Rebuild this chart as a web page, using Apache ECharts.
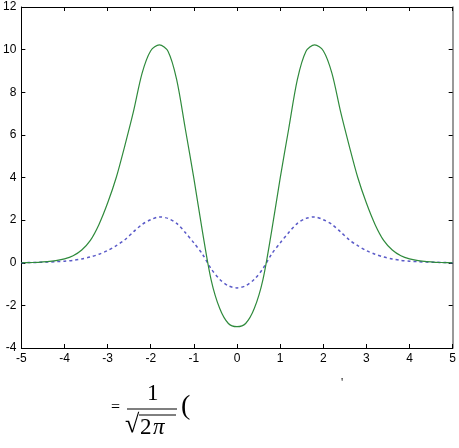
<!DOCTYPE html>
<html>
<head>
<meta charset="utf-8">
<script src="https://cdn.jsdelivr.net/npm/echarts@6/dist/echarts.min.js"></script>
<style>
  html, body { margin: 0; padding: 0; background: #fff; }
  #chart { width: 459px; height: 448px; }
</style>
</head>
<body>
<div id="chart"></div>
<script>
// x positions of the read points (step 0.2)
const xs = [-5, -4.8, -4.6, -4.4, -4.2, -4, -3.8, -3.6, -3.4, -3.2, -3, -2.8, -2.6, -2.4, -2.2, -2, -1.8, -1.6, -1.4, -1.2,
  -1, -0.8, -0.6, -0.4, -0.2, 0, 0.2, 0.4, 0.6, 0.8, 1, 1.2, 1.4, 1.6, 1.8, 2, 2.2, 2.4, 2.6, 2.8,
  3, 3.2, 3.4, 3.6, 3.8, 4, 4.2, 4.4, 4.6, 4.8, 5];
// green solid curve
const greenVals = [0, 0.01, 0.02, 0.05, 0.1, 0.18, 0.33, 0.6, 1.05, 1.8, 2.8, 4.0, 5.5, 7.1, 8.9, 9.95, 10.22, 9.92, 8.6, 6.3,
  3.96, 1.45, -0.8, -2.15, -2.85, -3.0, -2.85, -2.15, -0.8, 1.45, 3.96, 6.3, 8.6, 9.92, 10.22, 9.95, 8.9, 7.1, 5.5, 4.0,
  2.8, 1.8, 1.05, 0.6, 0.33, 0.18, 0.1, 0.05, 0.02, 0.01, 0];
// blue dashed curve
const blueVals = [0, 0.01, 0.02, 0.03, 0.05, 0.07, 0.11, 0.18, 0.27, 0.4, 0.57, 0.8, 1.08, 1.45, 1.8, 2.02, 2.15, 2.08, 1.85, 1.42,
  0.93, 0.4, -0.28, -0.78, -1.08, -1.18, -1.08, -0.78, -0.28, 0.4, 0.93, 1.42, 1.85, 2.08, 2.15, 2.02, 1.8, 1.45, 1.08, 0.8,
  0.57, 0.4, 0.27, 0.18, 0.11, 0.07, 0.05, 0.03, 0.02, 0.01, 0];

const pair = vals => xs.map((x, i) => [x, vals[i]]);

const chart = echarts.init(document.getElementById('chart'));
const labelFont = { color: '#000', fontFamily: 'Liberation Sans', fontSize: 12 };
const serif = 'Liberation Serif';

const option = {
  animation: false,
  grid: { left: 20, right: 5, top: 7, bottom: 100 },
  xAxis: [
    {
      type: 'value', min: -5, max: 5, interval: 1,
      axisLine: { onZero: false, lineStyle: { color: '#000', width: 1 } },
      axisTick: { inside: true, length: 4, lineStyle: { color: '#000' } },
      axisLabel: Object.assign({ margin: 5 }, labelFont),
      splitLine: { show: false }
    },
    {
      type: 'value', min: -5, max: 5, interval: 1, position: 'top',
      axisLine: { onZero: false, lineStyle: { color: '#000', width: 1 } },
      axisTick: { inside: true, length: 4, lineStyle: { color: '#000' } },
      axisLabel: { show: false },
      splitLine: { show: false }
    }
  ],
  yAxis: [
    {
      type: 'value', min: -4, max: 12, interval: 2,
      axisLine: { show: true, onZero: false, lineStyle: { color: '#000', width: 1 } },
      axisTick: { show: true, inside: true, length: 4, lineStyle: { color: '#000' } },
      axisLabel: Object.assign({ margin: 5 }, labelFont),
      splitLine: { show: false }
    },
    {
      type: 'value', min: -4, max: 12, interval: 2, position: 'right',
      axisLine: { show: true, onZero: false, lineStyle: { color: '#777', width: 1.5 } },
      axisTick: { show: true, inside: true, length: 4, lineStyle: { color: '#000' } },
      axisLabel: { show: false },
      splitLine: { show: false }
    }
  ],
  series: [
    {
      type: 'line', data: pair(blueVals), smooth: 0.3, symbol: 'none',
      lineStyle: { color: '#5a5ac8', width: 1.5, type: [3, 3] }
    },
    {
      type: 'line', data: pair(greenVals), smooth: 0.3, symbol: 'none',
      lineStyle: { color: '#2f8a3c', width: 1.2 }
    }
  ],
  graphic: [
    { type: 'text', left: 111, top: 400, style: { text: '=', font: '16px ' + serif, fill: '#000' } },
    { type: 'text', left: 147, top: 382, style: { text: '1', font: '23px ' + serif, fill: '#000' } },
    { type: 'line', shape: { x1: 127, y1: 409, x2: 177, y2: 409 }, style: { stroke: '#000', lineWidth: 1.2 } },
    { type: 'text', left: 125, top: 412, style: { text: '\u221A', font: '26px ' + serif, fill: '#000' } },
    { type: 'line', shape: { x1: 139, y1: 415, x2: 176, y2: 415 }, style: { stroke: '#000', lineWidth: 1 } },
    { type: 'text', left: 140, top: 416, style: { text: '2', font: '23px ' + serif, fill: '#000' } },
    { type: 'text', left: 153, top: 416, style: { text: '\u03C0', font: 'italic 23px ' + serif, fill: '#000' } },
    { type: 'text', left: 181, top: 393, style: { text: '(', font: '28px ' + serif, fill: '#000' } },
    { type: 'text', left: 341, top: 377, style: { text: '\'', font: '12px ' + serif, fill: '#000' } }
  ]
};
chart.setOption(option);
</script>
</body>
</html>
